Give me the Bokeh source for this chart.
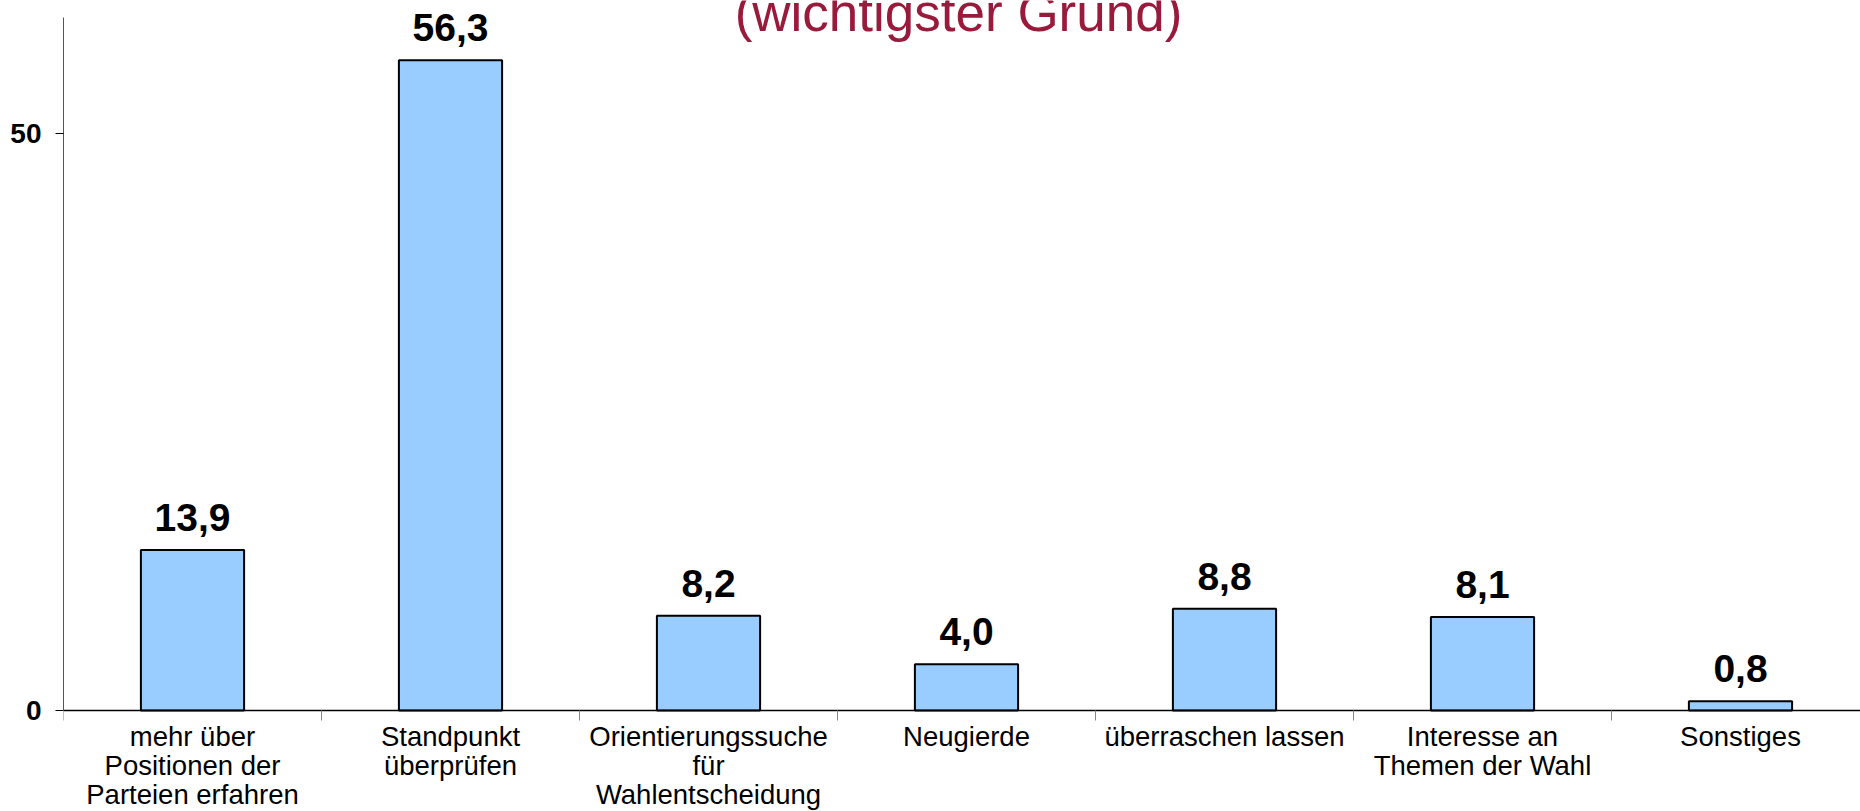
from bokeh.plotting import figure
from bokeh.models import Range1d, FixedTicker, LabelSet, Label, ColumnDataSource
from bokeh.core.properties import value
from bokeh.embed import file_html
from bokeh.resources import INLINE

# ---- data ----
categories = [
    "mehr über\nPositionen der\nParteien erfahren",
    "Standpunkt\nüberprüfen",
    "Orientierungssuche\nfür\nWahlentscheidung",
    "Neugierde",
    "überraschen lassen",
    "Interesse an\nThemen der Wahl",
    "Sonstiges",
]
values = [13.9, 56.3, 8.2, 4.0, 8.8, 8.1, 0.8]
y_ticks = [0, 50]
title_text = "(wichtigster Grund)"

# ---- layout ----
FONT = "Liberation Sans"
W, H = 1860, 811
LEFT = 63
AXIS_TOP = 17           # screen y where the y axis (value 60) ends
ZERO_Y = 710            # screen y of value 0
Y_MAX = 60
CAT_PX = 258
PXU = (ZERO_Y - AXIS_TOP) / Y_MAX
x_end = (W - LEFT) / CAT_PX
y_start = -(H - ZERO_Y) / PXU
y_end = Y_MAX + AXIS_TOP / PXU

n = len(categories)
xs = [i + 0.5 for i in range(n)]
value_labels = [f"{v:.1f}".replace(".", ",") for v in values]
src = ColumnDataSource(dict(x=xs, top=values, label=value_labels))

p = figure(width=W, height=H, x_range=Range1d(0, x_end),
           y_range=Range1d(y_start, y_end),
           output_backend="svg", toolbar_location=None,
           min_border_left=LEFT, min_border_right=0,
           min_border_top=0, min_border_bottom=0)
p.outline_line_color = None
p.xgrid.visible = False
p.ygrid.visible = False
p.background_fill_color = "white"
p.border_fill_color = "white"

p.vbar(x="x", top="top", bottom=0, width=0.4, source=src,
       fill_color="#99ccff", line_color="black", line_width=2)

# x axis drawn at value 0 with category labels beneath
xa = p.xaxis[0]
xa.fixed_location = 0
xa.ticker = FixedTicker(ticks=xs, minor_ticks=list(range(n + 1)))
xa.major_label_overrides = {x: c for x, c in zip(xs, categories)}
xa.major_label_text_font = FONT
xa.major_label_text_font_size = "27.5px"
xa.major_label_text_line_height = 0.95
xa.major_label_text_color = "black"
xa.major_label_standoff = 0
xa.major_tick_out = 0
xa.major_tick_in = 0
xa.minor_tick_out = 10
xa.minor_tick_in = 0
xa.minor_tick_line_color = "#888888"
xa.axis_line_color = "black"
xa.axis_line_width = 1.5

# y axis (line limited to 0..60)
ya = p.yaxis[0]
ya.bounds = (0, Y_MAX)
ya.ticker = FixedTicker(ticks=y_ticks, minor_ticks=[])
ya.major_tick_out = 8
ya.major_tick_in = 0
ya.minor_tick_out = 0
ya.minor_tick_in = 0
ya.major_tick_line_color = "black"
ya.axis_line_color = "#555555"
ya.axis_line_width = 1
ya.major_label_standoff = 14
ya.major_label_text_font = FONT
ya.major_label_text_font_style = "bold"
ya.major_label_text_font_size = "28px"
ya.major_label_text_color = "black"

# value labels
p.add_layout(LabelSet(x="x", y="top", text="label", source=src, y_offset=19,
                      text_align="center", text_baseline="alphabetic",
                      text_font=value(FONT), text_font_style="bold",
                      text_font_size="39px", text_color="black"))

# title (partially cut at top of the picture)
p.add_layout(Label(x=(958 - LEFT) / CAT_PX, y=Y_MAX - (12 - AXIS_TOP) / PXU,
                   text=title_text, text_align="center",
                   text_baseline="alphabetic", text_font=FONT,
                   text_font_size="53px", text_color="#991a3a"))

open("out.html", "w").write(file_html(p, INLINE))
